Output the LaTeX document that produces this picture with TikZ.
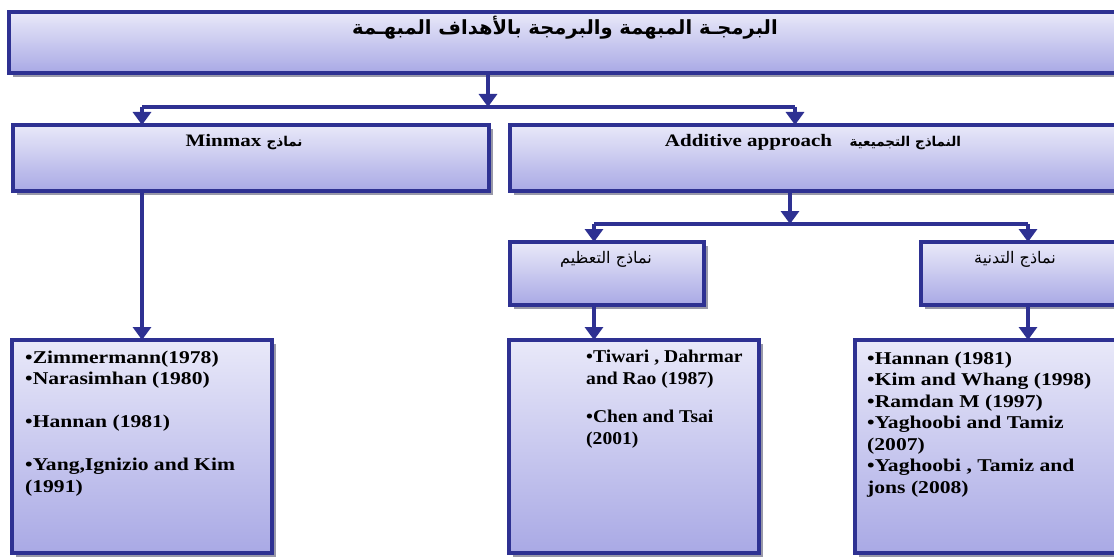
\documentclass[tikz,border=0pt]{standalone}
\usepackage{fontspec}
\setmainfont{Liberation Serif}[FakeStretch=1.2]
\newfontfamily\narrowserif{Liberation Serif}[FakeStretch=1.09]
\newfontfamily\arabicfont[Script=Arabic]{DejaVu Sans}
\TeXXeTstate=1
\usetikzlibrary{arrows.meta,shadows,calc}

\definecolor{navy}{HTML}{2E3192}
\definecolor{boxtop}{HTML}{E9E9F9}
\definecolor{boxbot}{HTML}{A9A9E5}
\definecolor{shade}{HTML}{8E8EA0}

\tikzset{
  box/.style={rectangle, draw=navy, line width=4pt, top color=boxtop, bottom color=boxbot,
    inner sep=0pt, outer sep=0pt, anchor=north west,
    drop shadow={shadow xshift=4pt, shadow yshift=-4pt, fill=shade, opacity=0.9}},
  conn/.style={draw=navy, line width=4pt},
  arr/.style={conn, -{Triangle[width=18pt,length=13pt]}},
  arab/.style={inner sep=0pt, font=\fontsize{16}{19}\arabicfont},
  refs/.style={inner sep=0pt, anchor=north west, align=left,
    font=\fontsize{18}{21.5}\selectfont\bfseries},
}

\begin{document}
\begin{tikzpicture}[x=1pt, y=-1pt]
  \useasboundingbox (0,0) rectangle (1114,559);
  \clip (0,0) rectangle (1114,559);

  % boxes (corner at the centre of the border line)
  \node[box, minimum width=1116pt, minimum height=61pt] (top)   at (9,12) {};
  \node[box, minimum width=476pt,  minimum height=66pt] (mm)    at (13,125) {};
  \node[box, minimum width=615pt,  minimum height=66pt] (add)   at (510,125) {};
  \node[box, minimum width=194pt,  minimum height=63pt] (maxm)  at (510,242) {};
  \node[box, minimum width=204pt,  minimum height=63pt] (minm)  at (921,242) {};
  \node[box, minimum width=260pt,  minimum height=213pt] (lmm)  at (12,340) {};
  \node[box, minimum width=250pt,  minimum height=213pt] (lmax) at (509,340) {};
  \node[box, minimum width=270pt,  minimum height=213pt] (lmin) at (855,340) {};

  % titles
  \node[inner sep=0pt, font=\fontsize{19.5}{22}\arabicfont\bfseries] (ttl) at (565,28)
    {\beginR البرمجـة المبهمة والبرمجة بالأهداف المبهـمة\endR};
  \node[inner sep=0pt] (mmt) at (244,142)
    {\fontsize{17.5}{20}\selectfont\bfseries Minmax {\fontsize{13.5}{16}\arabicfont\beginR نماذج\endR}};
  \node[inner sep=0pt] (addt) at (813,142)
    {\fontsize{17.5}{20}\selectfont\bfseries Additive approach\quad{\fontsize{13.5}{16}\arabicfont\beginR النماذج التجميعية\endR}};
  \node[arab] (maxt) at (606,259) {\beginR نماذج التعظيم\endR};
  \node[arab] (mint) at (1015,259) {\beginR نماذج التدنية\endR};

  % reference lists
  \node[refs] (r1) at (25,350.5)
    {•Zimmermann(1978)\\•Narasimhan (1980)\\[21.5pt]•Hannan (1981)\\[21.5pt]•Yang,Ignizio and Kim\\(1991)};
  \node[refs, font=\fontsize{18}{21.5}\narrowserif\bfseries] (r2) at (586,350)
    {•Tiwari , Dahrmar\\and Rao (1987)\\[17pt]•Chen and Tsai\\(2001)};
  \node[refs] (r3) at (867,351.5)
    {•Hannan (1981)\\•Kim and Whang (1998)\\•Ramdan M (1997)\\•Yaghoobi and Tamiz\\(2007)\\•Yaghoobi , Tamiz and\\jons (2008)};

  % junction points
  \coordinate (j0) at (488,107);
  \coordinate (jl) at (142,107);
  \coordinate (jr) at (795,107);
  \coordinate (k0) at (790,224);
  \coordinate (kl) at (594,224);
  \coordinate (kr) at (1028,224);

  % connectors
  \draw[arr] (top.south -| j0) -- (j0);
  \draw[conn] (jl) -- (jr);
  \draw[arr] (jl) -- (mm.north -| jl);
  \draw[arr] (jr) -- (add.north -| jr);
  \draw[arr] (mm.south -| jl) -- (lmm.north -| jl);

  \draw[arr] (add.south -| k0) -- (k0);
  \draw[conn] (kl) -- (kr);
  \draw[arr] (kl) -- (maxm.north -| kl);
  \draw[arr] (kr) -- (minm.north -| kr);
  \draw[arr] (maxm.south -| kl) -- (lmax.north -| kl);
  \draw[arr] (minm.south -| kr) -- (lmin.north -| kr);
\end{tikzpicture}
\end{document}
